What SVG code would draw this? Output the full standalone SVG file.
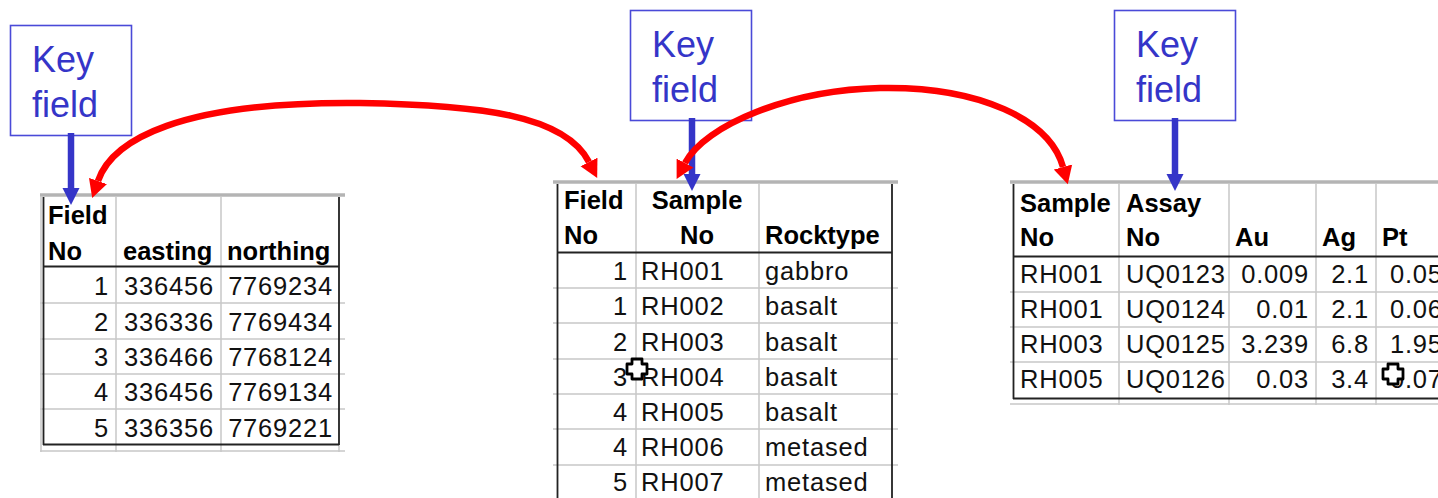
<svg xmlns="http://www.w3.org/2000/svg" width="1438" height="498" viewBox="0 0 1438 498">
<style>
.key{fill:#fff;stroke:#4a4ad8;stroke-width:1.6}
.kt{font-family:"Liberation Sans",Arial,sans-serif;font-size:36px;fill:#3535c8}
.h{font-family:"Liberation Sans",Arial,sans-serif;font-size:25.5px;font-weight:bold;fill:#000}
.d{font-family:"Liberation Sans",Arial,sans-serif;font-size:25.5px;fill:#111;letter-spacing:0.8px}
.e{text-anchor:end}
.m{text-anchor:middle}
.g{stroke:#c8c8c8;stroke-width:1.5;fill:none}
.band{stroke:#b4b4b4;stroke-width:3.5;fill:none}
.f{stroke:#222;stroke-width:1.8;fill:none}
.red{stroke:#ff0000;stroke-width:6.5;fill:none}
.blue{stroke:#3535c8;stroke-width:6.5;fill:none}
.cur{fill:#fff;stroke:#000;stroke-width:2.8;stroke-linejoin:round}
</style>
<defs>
<marker id="rh" markerUnits="userSpaceOnUse" viewBox="0 -10 20 20" refX="0" refY="0" markerWidth="20" markerHeight="20" orient="auto-start-reverse">
<path d="M18,0 L0,-9.5 L0,9.5 Z" fill="#ff0000"/>
</marker>
<marker id="bh" markerUnits="userSpaceOnUse" viewBox="0 -10 20 20" refX="0" refY="0" markerWidth="20" markerHeight="20" orient="auto">
<path d="M17,0 L0,-8.5 L0,8.5 Z" fill="#3535c8"/>
</marker>
</defs>

<g id="table-field">
<line class="band" x1="40" y1="195" x2="345" y2="195"/>
<path class="g" d="M40,303H345M40,339H345M40,374H345M40,409H345M116,197V452M221,197V452M41,197V452M339,444V452M40,451H345"/>
<path class="f" d="M43.5,197V445M339,197V445M43,266.5H339M43,444.5H339"/>
<text class="h" x="48" y="224">Field</text>
<text class="h" x="48" y="260">No</text>
<text class="h" x="123" y="260">easting</text>
<text class="h" x="227" y="260">northing</text>
<g class="d">
<text class="e" x="109" y="295">1</text><text class="e" x="214" y="295">336456</text><text class="e" x="333" y="295">7769234</text>
<text class="e" x="109" y="330.5">2</text><text class="e" x="214" y="330.5">336336</text><text class="e" x="333" y="330.5">7769434</text>
<text class="e" x="109" y="366">3</text><text class="e" x="214" y="366">336466</text><text class="e" x="333" y="366">7768124</text>
<text class="e" x="109" y="401">4</text><text class="e" x="214" y="401">336456</text><text class="e" x="333" y="401">7769134</text>
<text class="e" x="109" y="436.5">5</text><text class="e" x="214" y="436.5">336356</text><text class="e" x="333" y="436.5">7769221</text>
</g>
</g>

<g id="table-sample">
<line class="band" x1="553" y1="182" x2="898" y2="182"/>
<path class="g" d="M553,288H898M553,323H898M553,359H898M553,394H898M553,429H898M553,465H898M636,184V498M759,184V498"/>
<path class="f" d="M557.5,184V498M892,184V498M557,252.5H892"/>
<text class="h" x="564" y="209">Field</text>
<text class="h" x="564" y="244">No</text>
<text class="h m" x="697" y="209">Sample</text>
<text class="h m" x="697" y="244">No</text>
<text class="h" x="765" y="244">Rocktype</text>
<g class="d">
<text class="e" x="628" y="280">1</text><text x="641" y="280">RH001</text><text x="765" y="280">gabbro</text>
<text class="e" x="628" y="315">1</text><text x="641" y="315">RH002</text><text x="765" y="315">basalt</text>
<text class="e" x="628" y="350.5">2</text><text x="641" y="350.5">RH003</text><text x="765" y="350.5">basalt</text>
<text class="e" x="628" y="386">3</text><text x="641" y="386">RH004</text><text x="765" y="386">basalt</text>
<text class="e" x="628" y="421">4</text><text x="641" y="421">RH005</text><text x="765" y="421">basalt</text>
<text class="e" x="628" y="456">4</text><text x="641" y="456">RH006</text><text x="765" y="456">metased</text>
<text class="e" x="628" y="491">5</text><text x="641" y="491">RH007</text><text x="765" y="491">metased</text>
</g>
<path class="cur" d="M632,359h10v5h5v10h-5v5h-10v-5h-5v-10h5z"/>
</g>

<g id="table-assay">
<line class="band" x1="1010" y1="182" x2="1438" y2="182"/>
<path class="g" d="M1010,292H1438M1010,327H1438M1010,362H1438M1119,184V405M1229,184V405M1316,184V405M1376,184V405M1010,404H1438"/>
<path class="f" d="M1013.5,184V399M1013,256.5H1438M1013,398.5H1438"/>
<text class="h" x="1020" y="212">Sample</text>
<text class="h" x="1020" y="246">No</text>
<text class="h" x="1126" y="212">Assay</text>
<text class="h" x="1126" y="246">No</text>
<text class="h" x="1235" y="246">Au</text>
<text class="h" x="1322" y="246">Ag</text>
<text class="h" x="1382" y="246">Pt</text>
<g class="d">
<text x="1020" y="283">RH001</text><text x="1126" y="283">UQ0123</text><text class="e" x="1309" y="283">0.009</text><text class="e" x="1369" y="283">2.1</text><text x="1390" y="283">0.05</text>
<text x="1020" y="318">RH001</text><text x="1126" y="318">UQ0124</text><text class="e" x="1309" y="318">0.01</text><text class="e" x="1369" y="318">2.1</text><text x="1390" y="318">0.06</text>
<text x="1020" y="353">RH003</text><text x="1126" y="353">UQ0125</text><text class="e" x="1309" y="353">3.239</text><text class="e" x="1369" y="353">6.8</text><text x="1390" y="353">1.95</text>
<text x="1020" y="388">RH005</text><text x="1126" y="388">UQ0126</text><text class="e" x="1309" y="388">0.03</text><text class="e" x="1369" y="388">3.4</text><text x="1390" y="388">0.07</text>
</g>
<path class="cur" d="M1388,364h10v5h5v10h-5v5h-10v-5h-5v-10h5z"/>
</g>

<g id="key1">
<rect class="key" x="10.5" y="25.5" width="121" height="110"/>
<text class="kt" x="32" y="72">Key</text>
<text class="kt" x="32" y="117">field</text>
</g>
<g id="key2">
<rect class="key" x="630.5" y="10.5" width="121" height="110"/>
<text class="kt" x="652" y="57">Key</text>
<text class="kt" x="652" y="102">field</text>
</g>
<g id="key3">
<rect class="key" x="1114.5" y="10.5" width="121" height="110"/>
<text class="kt" x="1136" y="57">Key</text>
<text class="kt" x="1136" y="102">field</text>
</g>

<g id="connectors">
<path class="blue" d="M71,133V188" marker-end="url(#bh)"/>
<path class="blue" d="M692,118V174" marker-end="url(#bh)"/>
<path class="blue" d="M1175,118V174" marker-end="url(#bh)"/>
<path class="red" d="M98,181 C112,140 180,101 360,103 C480,105 565,115 589,162" marker-start="url(#rh)" marker-end="url(#rh)"/>
<path class="red" d="M685,163 C705,125 790,90 880,88 C980,86 1050,120 1063,167" marker-start="url(#rh)" marker-end="url(#rh)"/>
</g>
</svg>
